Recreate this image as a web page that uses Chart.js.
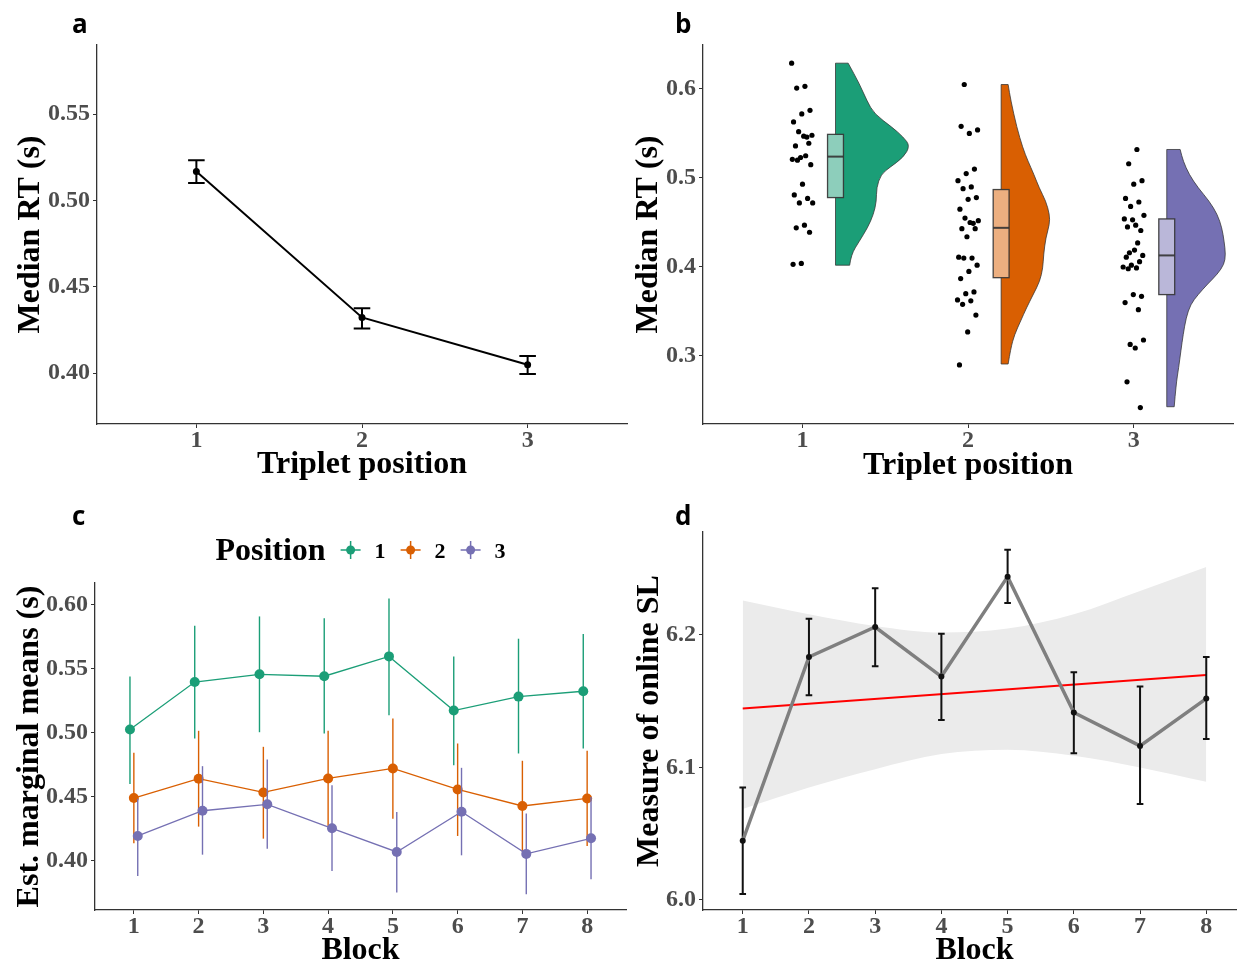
<!DOCTYPE html>
<html>
<head>
<meta charset="utf-8">
<script src="https://cdn.jsdelivr.net/npm/chart.js@4"></script>
<style>
  body { margin: 0; background: #fff; }
  #page { position: relative; width: 1237px; height: 962px; overflow: hidden; background: #fff; }
  canvas { position: absolute; }
  .tag { position: absolute; font: bold 26px "Open Sans", sans-serif; line-height: 30px; color: #000; }
</style>
</head>
<body>
<div id="page">
  <canvas id="chartA" width="640" height="480" style="left:0;top:0"></canvas>
  <canvas id="chartB" width="617" height="480" style="left:620px;top:0"></canvas>
  <canvas id="chartC" width="640" height="490" style="left:0;top:480px"></canvas>
  <canvas id="chartD" width="630" height="490" style="left:620px;top:480px"></canvas>
  <div class="tag" style="left:72px;top:8px">a</div>
  <div class="tag" style="left:675px;top:8px">b</div>
  <div class="tag" style="left:72px;top:500px">c</div>
  <div class="tag" style="left:675px;top:500px">d</div>
</div>
<script>
// panel a: median RT by triplet position
const positions = [1, 2, 3]
const rtMean = [0.5168, 0.4322, 0.4048]
const rtLow = [0.5101, 0.4258, 0.3994]
const rtHigh = [0.5232, 0.4376, 0.4099]
const rtTicks = [0.40, 0.45, 0.50, 0.55]

// panel b: individual medians, violins and boxes
const rt1 = [0.629, 0.603, 0.601, 0.576, 0.572, 0.563, 0.546, 0.552, 0.548, 0.547, 0.536, 0.539, 0.523, 0.521, 0.525, 0.520, 0.515, 0.493, 0.481, 0.477, 0.472, 0.472, 0.447, 0.444, 0.439, 0.404, 0.403]
const rt2 = [0.605, 0.554, 0.550, 0.558, 0.510, 0.505, 0.497, 0.490, 0.488, 0.478, 0.476, 0.465, 0.449, 0.455, 0.452, 0.450, 0.443, 0.443, 0.434, 0.411, 0.410, 0.410, 0.402, 0.395, 0.387, 0.372, 0.370, 0.363, 0.362, 0.358, 0.346, 0.327, 0.290]
const rt3 = [0.532, 0.516, 0.497, 0.493, 0.477, 0.473, 0.468, 0.458, 0.447, 0.445, 0.441, 0.453, 0.454, 0.427, 0.416, 0.413, 0.419, 0.411, 0.406, 0.402, 0.400, 0.399, 0.398, 0.367, 0.369, 0.360, 0.352, 0.313, 0.318, 0.309, 0.271, 0.242]
const violinLevels1 = [0.402, 0.414, 0.429, 0.444, 0.459, 0.474, 0.489, 0.504, 0.512, 0.523, 0.536, 0.546, 0.557, 0.572, 0.587, 0.606, 0.629]
const violinDens1 = [0.19, 0.21, 0.32, 0.43, 0.51, 0.55, 0.55, 0.61, 0.73, 0.91, 1.0, 0.91, 0.76, 0.52, 0.42, 0.32, 0.17]
const violinLevels2 = [0.291, 0.309, 0.324, 0.339, 0.354, 0.369, 0.384, 0.399, 0.414, 0.433, 0.448, 0.459, 0.474, 0.489, 0.504, 0.519, 0.534, 0.557, 0.587, 0.605]
const violinDens2 = [0.094, 0.13, 0.18, 0.26, 0.34, 0.43, 0.52, 0.56, 0.57, 0.60, 0.65, 0.65, 0.60, 0.51, 0.44, 0.36, 0.29, 0.21, 0.13, 0.094]
const violinLevels3 = [0.243, 0.268, 0.287, 0.306, 0.324, 0.343, 0.358, 0.369, 0.381, 0.392, 0.403, 0.414, 0.429, 0.444, 0.459, 0.474, 0.489, 0.504, 0.519, 0.532]
const violinDens3 = [0.10, 0.125, 0.16, 0.19, 0.22, 0.26, 0.32, 0.42, 0.55, 0.68, 0.77, 0.79, 0.77, 0.74, 0.68, 0.57, 0.42, 0.30, 0.22, 0.18]
const boxQ1 = [0.478, 0.388, 0.369]
const boxMedian = [0.524, 0.444, 0.413]
const boxQ3 = [0.549, 0.487, 0.454]
const rawTicks = [0.3, 0.4, 0.5, 0.6]

// panel c: estimated marginal means per block and position
const blocks = [1, 2, 3, 4, 5, 6, 7, 8]
const emm1 = [0.5026, 0.5397, 0.5457, 0.5442, 0.5597, 0.5174, 0.5283, 0.5325]
const emmLow1 = [0.4600, 0.4956, 0.5005, 0.4995, 0.5138, 0.4748, 0.4839, 0.4878]
const emmHigh1 = [0.5440, 0.5836, 0.5909, 0.5894, 0.6049, 0.5597, 0.5735, 0.5771]
const emm2 = [0.4491, 0.4642, 0.4535, 0.4644, 0.4722, 0.4558, 0.4429, 0.4488]
const emmLow2 = [0.4138, 0.4268, 0.4174, 0.4273, 0.4330, 0.4195, 0.4073, 0.4117]
const emmHigh2 = [0.4844, 0.5016, 0.4891, 0.5016, 0.5112, 0.4917, 0.4782, 0.4860]
const emm3 = [0.4195, 0.4392, 0.4442, 0.4255, 0.4070, 0.4384, 0.4055, 0.4177]
const emmLow3 = [0.3883, 0.4049, 0.4096, 0.3922, 0.3753, 0.4044, 0.3740, 0.3857]
const emmHigh3 = [0.4486, 0.4740, 0.4792, 0.4590, 0.4382, 0.4727, 0.4371, 0.4499]
const emmTicks = [0.40, 0.45, 0.50, 0.55, 0.60]

// panel d: online SL per block with linear fit
const slMean = [6.0447, 6.1834, 6.2060, 6.1686, 6.2440, 6.1415, 6.1163, 6.1520]
const slLow = [6.0045, 6.1545, 6.1764, 6.1359, 6.2241, 6.1108, 6.0724, 6.1214]
const slHigh = [6.0849, 6.2123, 6.2352, 6.2010, 6.2643, 6.1719, 6.1611, 6.1834]
const fitX = [1, 8]
const fitY = [6.1445, 6.1698]
const bandHigh = [6.2261, 6.2156, 6.2068, 6.2018, 6.2048, 6.2156, 6.2332, 6.2513]
const bandLow = [6.0686, 6.0849, 6.0987, 6.1101, 6.1133, 6.1088, 6.1000, 6.0892]
const slTicks = [6.0, 6.1, 6.2]

const legendTitle = 'Position'
const colors = ['#1B9E77', '#D95F02', '#7570B3']
const boxFills = ['#8DCEBB', '#ECAF80', '#BAB7D9']

const serif = '"Liberation Serif", "Times New Roman", serif'
const tickFont = { family: serif, weight: 'bold', size: 24, lineHeight: 1 }
const titleFont = { family: serif, weight: 'bold', size: 32, lineHeight: 1 }

function axis(min, max, ticks, fmt, title, size, titlePad) {
    return {
        type: 'linear',
        min: min,
        max: max,
        afterBuildTicks: s => { s.ticks = ticks.map(v => ({ value: v })) },
        afterFit: s => { if (s.isHorizontal()) s.height = size; else s.width = size },
        ticks: { callback: v => fmt(v), color: '#4D4D4D', font: tickFont, padding: 3, autoSkip: false, maxRotation: 0 },
        grid: { drawOnChartArea: false, tickLength: 4, color: '#333', lineWidth: 1 },
        border: { color: '#333', width: 1.3 },
        title: { display: true, text: title, color: '#000', font: titleFont, padding: titlePad }
    }
}

function xAxis(min, max, ticks, title, size, titlePad) {
    const a = axis(min, max, ticks, v => String(v), title, size, titlePad)
    a.ticks.padding = 1
    return a
}

function options(padding, x, y) {
    return {
        responsive: false,
        animation: false,
        events: [],
        layout: { padding: padding },
        plugins: { legend: { display: false }, tooltip: { enabled: false } },
        scales: { x: x, y: y }
    }
}

function points(xs, ys, shift) {
    return xs.map((x, i) => ({ x: x + (shift || 0), y: ys[i] }))
}

// vertical error bars, with optional caps, read from errLow / errHigh of a dataset
const errorBars = {
    id: 'errorBars',
    beforeDatasetDraw(chart, args) {
        const ds = chart.data.datasets[args.index]
        if (!ds.errLow) return
        const ctx = chart.ctx
        const xs = chart.scales.x, ys = chart.scales.y
        ctx.save()
        ctx.strokeStyle = ds.errColor || ds.borderColor
        ctx.lineWidth = ds.errWidth || 1.5
        ds.data.forEach((p, i) => {
            const px = xs.getPixelForValue(p.x)
            const y1 = ys.getPixelForValue(ds.errLow[i])
            const y2 = ys.getPixelForValue(ds.errHigh[i])
            ctx.beginPath()
            ctx.moveTo(px, y1)
            ctx.lineTo(px, y2)
            if (ds.errCap) {
                const c = xs.getPixelForValue(p.x + ds.errCap) - px
                ctx.moveTo(px - c, y1); ctx.lineTo(px + c, y1)
                ctx.moveTo(px - c, y2); ctx.lineTo(px + c, y2)
            }
            ctx.stroke()
        })
        ctx.restore()
    }
}

// half violins and boxes of panel b
const violins = {
    id: 'violins',
    beforeDatasetsDraw(chart) {
        const ctx = chart.ctx
        const xs = chart.scales.x, ys = chart.scales.y
        const levels = [violinLevels1, violinLevels2, violinLevels3]
        const dens = [violinDens1, violinDens2, violinDens3]
        positions.forEach((pos, g) => {
            const base = pos + 0.2
            const bx = xs.getPixelForValue(base)
            const pts = levels[g].map((v, i) => [xs.getPixelForValue(base + dens[g][i] * 0.45), ys.getPixelForValue(v)])
            ctx.save()
            ctx.beginPath()
            ctx.moveTo(bx, pts[0][1])
            ctx.lineTo(pts[0][0], pts[0][1])
            for (let i = 1; i < pts.length - 1; i++) {
                const mx = (pts[i][0] + pts[i + 1][0]) / 2
                const my = (pts[i][1] + pts[i + 1][1]) / 2
                ctx.quadraticCurveTo(pts[i][0], pts[i][1], mx, my)
            }
            const last = pts[pts.length - 1]
            ctx.lineTo(last[0], last[1])
            ctx.lineTo(bx, last[1])
            ctx.closePath()
            ctx.fillStyle = colors[g]
            ctx.fill()
            ctx.strokeStyle = 'rgba(51,51,51,0.85)'
            ctx.lineWidth = 0.9
            ctx.stroke()

            const l = xs.getPixelForValue(base - 0.048)
            const r = xs.getPixelForValue(base + 0.048)
            const top = ys.getPixelForValue(boxQ3[g])
            const bot = ys.getPixelForValue(boxQ1[g])
            const med = ys.getPixelForValue(boxMedian[g])
            ctx.fillStyle = boxFills[g]
            ctx.fillRect(l, top, r - l, bot - top)
            ctx.strokeStyle = 'rgba(51,51,51,0.9)'
            ctx.lineWidth = 1.3
            ctx.strokeRect(l, top, r - l, bot - top)
            ctx.beginPath()
            ctx.lineWidth = 2
            ctx.moveTo(l, med)
            ctx.lineTo(r, med)
            ctx.stroke()
            ctx.restore()
        })
    }
}

// legend of panel c: title followed by pointrange keys
const positionLegend = {
    id: 'positionLegend',
    afterDraw(chart) {
        const ctx = chart.ctx
        const area = chart.chartArea
        const y = area.top - 33
        const items = chart.data.datasets.slice().sort((a, b) => a.label.localeCompare(b.label))
        ctx.save()
        ctx.textBaseline = 'alphabetic'
        ctx.font = `bold 32px ${serif}`
        const titleW = ctx.measureText(legendTitle).width
        ctx.font = `bold 22px ${serif}`
        const widths = items.map(d => ctx.measureText(d.label).width)
        const total = titleW + widths.reduce((a, b) => a + b + 49, 0)
        let x = (area.left + area.right) / 2 - total / 2
        ctx.fillStyle = '#000'
        ctx.font = `bold 32px ${serif}`
        ctx.fillText(legendTitle, x, y + 10)
        x += titleW
        ctx.font = `bold 22px ${serif}`
        items.forEach((d, i) => {
            const cx = x + 25
            ctx.strokeStyle = d.borderColor
            ctx.lineWidth = 1.5
            ctx.beginPath()
            ctx.moveTo(cx - 10, y); ctx.lineTo(cx + 10, y)
            ctx.moveTo(cx, y - 9); ctx.lineTo(cx, y + 9)
            ctx.stroke()
            ctx.fillStyle = d.borderColor
            ctx.beginPath()
            ctx.arc(cx, y, 4.5, 0, Math.PI * 2)
            ctx.fill()
            ctx.fillStyle = '#000'
            ctx.fillText(d.label, cx + 24, y + 8)
            x = cx + 24 + widths[i]
        })
        ctx.restore()
    }
}

const two = v => v.toFixed(2)
const one = v => v.toFixed(1)

new Chart(document.getElementById('chartA'), {
    type: 'scatter',
    data: {
        datasets: [{
            data: points(positions, rtMean),
            showLine: true,
            borderColor: '#000',
            borderWidth: 2,
            pointRadius: 2.5,
            pointBackgroundColor: '#000',
            errLow: rtLow, errHigh: rtHigh, errCap: 0.05, errColor: '#000', errWidth: 2
        }]
    },
    options: options({ top: 45, right: 13, left: 0, bottom: 0 },
        xAxis(0.4, 3.6, positions, 'Triplet position', 56, { top: 0, bottom: -1 }),
        axis(0.3705, 0.590, rtTicks, two, 'Median RT (s)', 97, { top: 15, bottom: 0 })),
    plugins: [errorBars]
})

const jitter = i => (((i * 0.618034) % 1) - 0.5) * 0.13
new Chart(document.getElementById('chartB'), {
    type: 'scatter',
    data: {
        datasets: [rt1, rt2, rt3].map((vals, g) => ({
            data: vals.map((v, i) => ({ x: positions[g] + jitter(i + g * 7), y: v })),
            pointRadius: 2.6,
            pointBackgroundColor: '#000',
            pointBorderWidth: 0
        }))
    },
    options: options({ top: 45, right: 0, left: 0, bottom: 0 },
        xAxis(0.4, 3.6, positions, 'Triplet position', 56, { top: 0, bottom: -2 }),
        axis(0.2236, 0.6494, rawTicks, one, 'Median RT (s)', 83, { top: 13, bottom: 0 })),
    plugins: [violins]
})

const dodge = [-0.06, 0, 0.06]
const emmSeries = [[emm1, emmLow1, emmHigh1], [emm2, emmLow2, emmHigh2], [emm3, emmLow3, emmHigh3]]
new Chart(document.getElementById('chartC'), {
    type: 'scatter',
    data: {
        datasets: emmSeries.map((s, g) => ({
            label: String(positions[g]),
            data: points(blocks, s[0], dodge[g]),
            showLine: true,
            order: 2 - g,
            borderColor: colors[g],
            borderWidth: 1.3,
            pointRadius: 5,
            pointBackgroundColor: colors[g],
            pointBorderWidth: 0,
            errLow: s[1], errHigh: s[2], errWidth: 1.4
        }))
    },
    options: options({ top: 103, right: 14, left: 0, bottom: 0 },
        xAxis(0.4, 8.6, blocks, 'Block', 60, { top: 0, bottom: 3 }),
        axis(0.3617, 0.617, emmTicks, two, 'Est. marginal means (s)', 95, { top: 14, bottom: 0 })),
    plugins: [errorBars, positionLegend]
})

new Chart(document.getElementById('chartD'), {
    type: 'scatter',
    data: {
        datasets: [{
            data: points(blocks, slMean),
            showLine: true,
            borderColor: '#7F7F7F',
            borderWidth: 3.5,
            pointRadius: 3,
            pointBackgroundColor: '#111',
            pointBorderWidth: 0,
            errLow: slLow, errHigh: slHigh, errCap: 0.05, errColor: '#111', errWidth: 2
        }, {
            data: points(fitX, fitY),
            showLine: true,
            borderColor: '#FF0000',
            borderWidth: 2,
            pointRadius: 0
        }, {
            data: points(blocks, bandHigh),
            showLine: true,
            borderWidth: 0,
            pointRadius: 0,
            tension: 0.4,
            cubicInterpolationMode: 'monotone',
            fill: '+1',
            backgroundColor: '#EBEBEB'
        }, {
            data: points(blocks, bandLow),
            showLine: true,
            borderWidth: 0,
            pointRadius: 0,
            tension: 0.4,
            cubicInterpolationMode: 'monotone'
        }]
    },
    options: options({ top: 52, right: 3, left: 0, bottom: 0 },
        xAxis(0.4, 8.6, blocks, 'Block', 60, { top: 0, bottom: 3 }),
        axis(5.99245, 6.2777, slTicks, one, 'Measure of online SL', 83, { top: 14, bottom: 0 })),
    plugins: [errorBars]
})
</script>
</body>
</html>
